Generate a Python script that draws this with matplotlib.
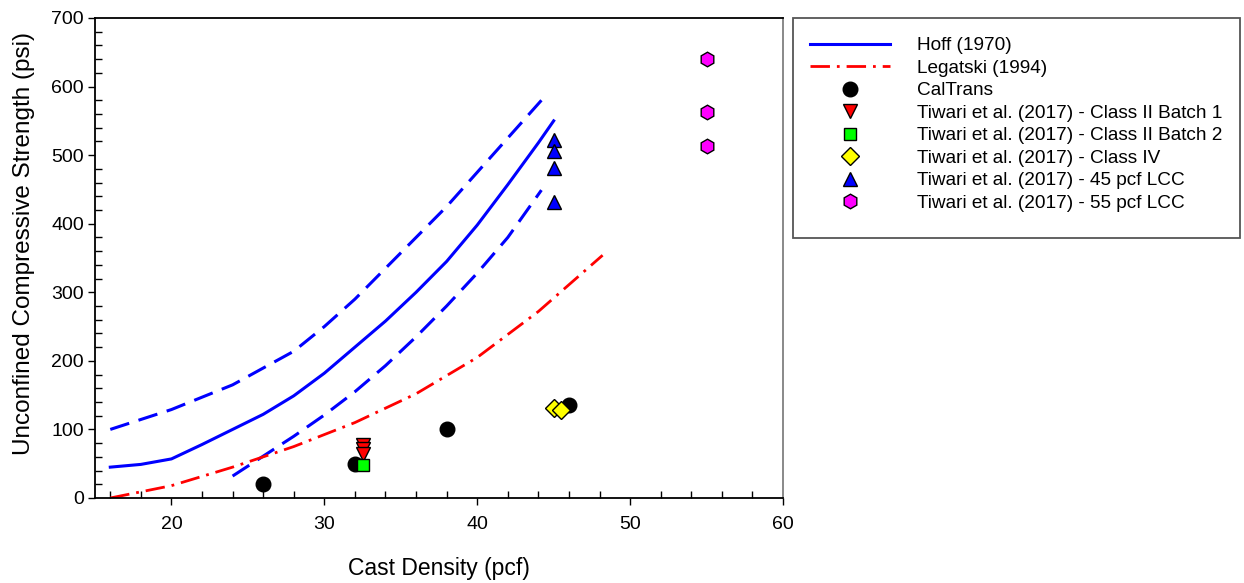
import matplotlib
matplotlib.use("Agg")
import matplotlib.pyplot as plt
from matplotlib.ticker import MultipleLocator
from matplotlib.patches import Rectangle

plt.rcParams['font.family'] = ['Liberation Sans', 'DejaVu Sans']

# Hoff (1970) curve and bounds
hoff_x = [16, 18, 20, 22, 24, 26, 28, 30, 32, 34, 36, 38, 40, 42, 44, 45]
hoff_y = [45, 49, 57, 78, 100, 122, 149, 182, 220, 258, 300, 345, 398, 457, 518, 550]
hoff_up_x = [16, 20, 24, 28, 30, 32, 34, 36, 38, 40, 42, 44.2]
hoff_up_y = [100, 129, 165, 214, 250, 290, 335, 380, 425, 475, 525, 580]
hoff_lo_x = [24, 26, 28, 30, 32, 34, 36, 38, 40, 42, 44.2]
hoff_lo_y = [32, 61, 90, 121, 155, 193, 235, 280, 328, 380, 449]

# Legatski (1994)
leg_x = [16, 20, 24, 28, 32, 36, 40, 44, 48.2]
leg_y = [0, 18, 45, 75, 110, 152, 205, 272, 354]

# Data sets
caltrans_x = [26, 32, 38, 46]
caltrans_y = [20, 50, 100, 135]
b1_x = [32.5, 32.5, 32.5]
b1_y = [77, 71, 64]
b2_x = [32.5]
b2_y = [48]
c4_x = [45.0, 45.5]
c4_y = [131, 129]
lcc45_x = [45, 45, 45, 45]
lcc45_y = [522, 506, 481, 431]
lcc55_x = [55, 55, 55]
lcc55_y = [640, 563, 513]

W, H = 1244, 583
fig = plt.figure(figsize=(W/100, H/100), dpi=100)
ax = fig.add_axes([95/W, 85/H, (783-95)/W, (498-18)/H])

l1, = ax.plot(hoff_x, hoff_y, color='#0000ff', lw=2.2, label='Hoff (1970)')
ax.plot(hoff_up_x, hoff_up_y, color='#0000ff', lw=2.2, dashes=(6.5, 3.2))
ax.plot(hoff_lo_x, hoff_lo_y, color='#0000ff', lw=2.2, dashes=(6.5, 3.2))
l2, = ax.plot(leg_x, leg_y, color='#ff0000', lw=2.0, dashes=(7, 2.5, 1, 2.5), label='Legatski (1994)')

mk = dict(linestyle='none', markeredgecolor='black', markeredgewidth=1.0, markersize=10.5)
p1, = ax.plot(caltrans_x, caltrans_y, marker='o', color='black', label='CalTrans', **mk)
p2, = ax.plot(b1_x, b1_y, marker='v', color='#ff0000', label='Tiwari et al. (2017) - Class II Batch 1', **mk)
p3, = ax.plot(b2_x, b2_y, marker='s', color='#00ff00', label='Tiwari et al. (2017) - Class II Batch 2', **dict(mk, markersize=9))
p4, = ax.plot(c4_x, c4_y, marker='D', color='#ffff00', label='Tiwari et al. (2017) - Class IV', **dict(mk, markersize=9))
p5, = ax.plot(lcc45_x, lcc45_y, marker='^', color='#0000ff', label='Tiwari et al. (2017) - 45 pcf LCC', **mk)
p6, = ax.plot(lcc55_x, lcc55_y, marker='h', color='#ff00ff', label='Tiwari et al. (2017) - 55 pcf LCC', **mk)

ax.set_xlim(15, 60)
ax.set_ylim(0, 700)
ax.xaxis.set_major_locator(MultipleLocator(10))
ax.xaxis.set_minor_locator(MultipleLocator(2))
ax.yaxis.set_major_locator(MultipleLocator(100))
ax.yaxis.set_minor_locator(MultipleLocator(20))
ax.set_xticks([20, 30, 40, 50, 60])
ax.tick_params(axis='both', which='major', direction='out', length=5, width=1.0, labelsize=14, colors='black')
ax.tick_params(axis='x', which='major', pad=8)
ax.tick_params(axis='y', which='major', pad=3)
ax.tick_params(axis='both', which='minor', direction='in', length=5, width=1.0)
ax.tick_params(top=False, right=False, which='both')
for s in ['left', 'bottom', 'top']:
    ax.spines[s].set_color('black')
    ax.spines[s].set_linewidth(1.3)
ax.spines['right'].set_color('#808080')
ax.spines['right'].set_linewidth(1.3)

ax.set_xlabel('Cast Density (pcf)', fontsize=16.5, labelpad=17)
ax.set_ylabel('Unconfined Compressive Strength (psi)', fontsize=17.5)
ax.yaxis.set_label_coords(-0.087, 0.531)

# legend frame box
fig.patches.append(Rectangle((793/W, 1 - 238/H), (1240-793)/W, (238-18)/H,
                             transform=fig.transFigure, fill=False,
                             edgecolor='#555555', linewidth=1.3))

leg = fig.legend(handles=[l1, l2, p1, p2, p3, p4, p5, p6], loc='upper left',
                 bbox_to_anchor=(793/W, 1 - 20/H), fontsize=13.7, frameon=False,
                 handlelength=4.2, handletextpad=1.4,
                 labelspacing=0.27, borderpad=0.9, borderaxespad=0)

fig.savefig('out.png', dpi=100)
